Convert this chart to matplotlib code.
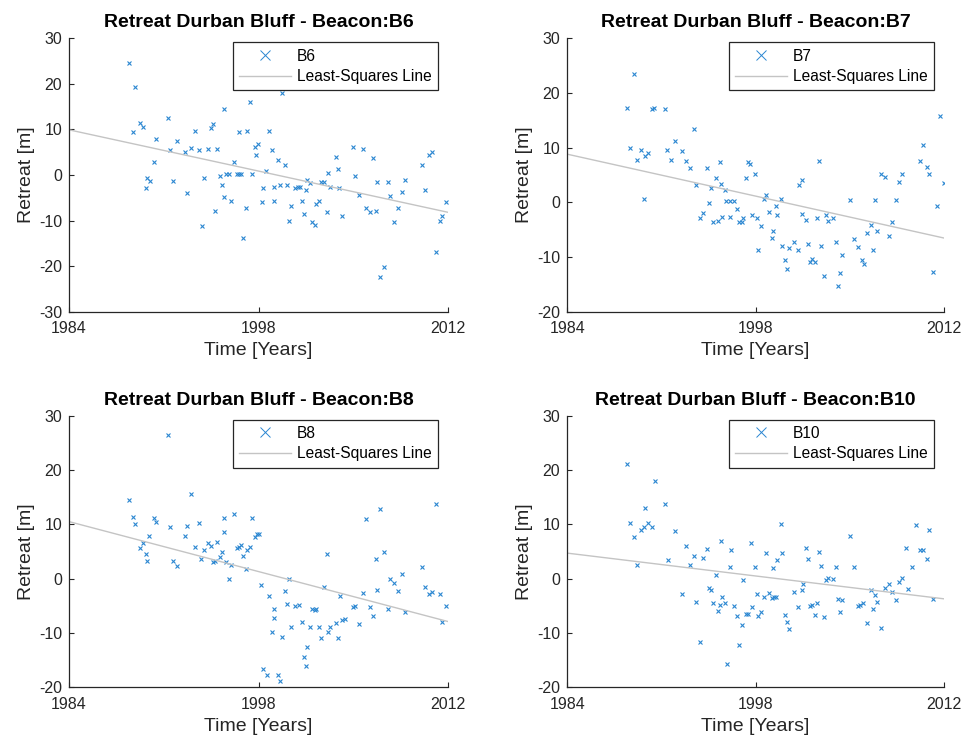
import numpy as np
import matplotlib
matplotlib.use("Agg")
import matplotlib.pyplot as plt
from matplotlib.lines import Line2D

plt.rcParams['font.family'] = ['Liberation Sans', 'DejaVu Sans']
plt.rcParams['axes.unicode_minus'] = False

# survey dates [years] and retreat [m] per beacon
b6_years = [1988.41, 1988.90, 1988.70, 1989.27, 1989.49, 1989.67, 1989.76, 1989.96, 1990.26, 1990.45,
            1991.29, 1991.49, 1991.68, 1991.96, 1992.55, 1992.74, 1993.04, 1993.31, 1993.61, 1993.80,
            1993.98, 1994.27, 1994.47, 1994.67, 1994.76, 1994.94, 1995.13, 1995.33, 1995.43, 1995.43,
            1995.58, 1995.80, 1996.00, 1996.19, 1996.39, 1996.54, 1996.71, 1996.59, 1996.86, 1997.08,
            1997.18, 1997.35, 1997.55, 1997.74, 1997.84, 1997.99,
            1998.24, 1998.33, 1998.58, 1998.80, 1999.00, 1999.17, 1999.17, 1999.47, 1999.57, 1999.76,
            1999.96, 2000.13, 2000.26, 2000.43, 2000.72, 2000.90, 2001.04, 2001.22, 2001.39, 2001.49,
            2001.61, 2001.81, 2001.96, 2002.18, 2002.28, 2002.47, 2002.65, 2002.84, 2003.04, 2003.14,
            2003.31, 2003.70, 2003.90, 2003.98, 2004.20, 2004.96, 2005.16, 2005.45, 2005.72, 2005.92,
            2006.22, 2006.49, 2006.71, 2006.78, 2006.98, 2007.25, 2007.55, 2007.74, 2008.04, 2008.33,
            2008.63, 2008.80, 2010.06, 2010.33, 2010.63, 2010.82, 2011.12, 2011.41, 2011.59, 2011.88]
b6_retreat = [24.5, 19.3, 9.4, 11.4, 10.5, -2.9, -0.6, -1.3, 2.8, 8.0,
              12.5, 5.4, -1.3, 7.4, 5.1, -4.0, 5.9, 9.7, 5.4, -11.2,
              -0.6, 5.7, 10.3, 11.1, -7.8, 5.7, -0.3, -2.3, 14.5, -4.9,
              0.2, 0.2, -5.8, 2.8, 0.2, 0.2, 0.2, 9.4, -13.8, -7.2,
              9.7, 16.0, 0.2, 6.2, 4.3, 6.8,
              -6.0, -2.9, 0.9, 9.7, 5.4, -2.6, -5.8, 3.2, -2.1, 18.0,
              2.2, -2.1, -10.0, -6.9, -2.9, -2.6, -2.6, -5.8, -8.6, -3.2,
              -1.2, -1.8, -10.3, -10.9, -6.3, -5.8, -1.5, -1.5, -8.1, 0.5,
              -2.6, 4.0, 1.4, -2.9, -8.9, 6.2, -0.3, -4.3, 5.7, -7.2,
              -8.1, 3.7, -7.8, -1.5, -22.4, -20.1, -1.5, -4.6, -10.3, -7.2,
              -3.7, -1.2, 2.3, -3.4, 4.3, 5.1, -16.9, -10.0, -8.9, -6.0]

b7_years = [1988.93, 1988.44, 1990.27, 1990.47, 1991.27, 1993.40, 1992.03, 1988.64, 1989.50, 1990.00,
            1989.80, 1989.21, 1991.44, 1992.53, 1991.74, 1992.83, 1993.12, 1994.36, 1995.33, 1995.03,
            1993.60, 1994.66, 1995.43, 1995.73, 1989.70, 1994.56, 1994.07, 1993.89, 1994.86, 1995.23,
            1995.53, 1995.83, 1996.08, 1996.37, 1996.60, 1996.12, 1996.79, 1996.99, 1997.09, 1997.27,
            1997.44, 1997.61, 1997.94, 1997.76, 1998.13, 1998.21,
            1998.43, 1998.63, 1998.81, 1999.03, 1999.20, 1999.30, 1999.50, 1999.60, 1999.87, 1999.97,
            2000.17, 2000.37, 2000.47, 2000.84, 2001.14, 2001.24, 2001.43, 2001.43, 2001.73, 2001.93,
            2002.03, 2002.18, 2002.40, 2002.60, 2002.70, 2002.90, 2003.09, 2003.27, 2003.37, 2003.76,
            2003.96, 2004.16, 2004.26, 2004.46, 2005.03, 2005.33, 2005.60, 2005.90, 2006.09, 2006.29,
            2006.57, 2006.76, 2006.86, 2007.06, 2007.34, 2007.63, 2007.93, 2008.13, 2008.43, 2008.70,
            2008.90, 2010.26, 2010.43, 2010.73, 2010.93, 2011.20, 2011.50, 2011.70, 2012.00]
b7_retreat = [23.4, 17.3, 17.1, 17.3, 17.1, 13.5, 11.2, 10.0, 9.5, 9.0,
              8.5, 7.8, 9.5, 9.3, 7.8, 7.6, 6.2, 6.2, 7.3, 4.5,
              3.2, 2.6, 3.3, 2.3, 0.7, -0.1, -2.0, -2.9, -3.6, -3.4,
              -2.7, 0.2, 0.2, 0.2, -1.2, -2.7, -3.6, -3.6, -2.9, 4.5,
              7.3, 7.1, 5.2, -2.4, -2.9, -8.8,
              -4.3, 0.7, 1.4, -1.7, -6.5, -5.3, -0.7, -2.4, 0.7, -7.9,
              -10.5, -12.2, -8.4, -7.2, -8.7, 3.1, 4.0, -2.2, -3.2, -7.7,
              -11.0, -10.3, -11.0, -2.9, 7.6, -7.9, -13.4, -2.4, -3.4, -2.9,
              -7.2, -15.3, -12.9, -9.6, 0.4, -6.7, -8.2, -10.6, -11.3, -5.6,
              -4.1, -8.8, 0.4, -5.3, 5.2, 4.7, -6.2, -3.6, 0.4, 3.8,
              5.2, 7.6, 10.4, 6.4, 5.2, -12.7, -0.6, 15.7, 3.5]

b8_years = [1991.29, 1988.41, 1993.04, 1988.70, 1988.90, 1990.26, 1990.45, 1991.49, 1992.74, 1993.61,
            1995.43, 1996.19, 1997.55, 1989.94, 1992.55, 1995.43, 1989.47, 1989.27, 1989.67, 1989.76,
            1991.68, 1991.96, 1993.31, 1993.78, 1993.98, 1994.27, 1994.47, 1994.94, 1994.67, 1994.76,
            1995.13, 1995.33, 1995.63, 1996.00, 1995.82, 1996.39, 1996.59, 1996.68, 1996.86, 1997.08,
            1997.18, 1997.35, 1997.74, 1997.87,
            1998.01, 1998.21, 1998.33, 1998.61, 1998.80, 1999.00, 1999.17, 1999.17, 1999.47, 1999.57,
            1999.76, 1999.96, 2000.13, 2000.23, 2000.43, 2000.72, 2001.02, 2001.22, 2001.39, 2001.49,
            2001.59, 2001.78, 2001.98, 2002.18, 2002.28, 2002.47, 2002.65, 2002.84, 2003.04, 2003.14,
            2003.31, 2003.70, 2003.90, 2004.00, 2004.20, 2004.37, 2004.96, 2005.16, 2005.43, 2005.72,
            2005.92, 2006.22, 2006.49, 2006.68, 2006.78, 2006.98, 2007.25, 2007.55, 2007.74, 2008.04,
            2008.33, 2008.63, 2008.80, 2010.06, 2010.33, 2010.63, 2010.82, 2011.12, 2011.41, 2011.59,
            2011.88]
b8_retreat = [26.5, 14.5, 15.6, 11.4, 10.0, 11.2, 10.5, 9.5, 9.7, 10.2,
              11.2, 11.9, 11.2, 7.8, 7.8, 8.6, 6.6, 5.7, 4.5, 3.2,
              3.2, 2.3, 5.9, 3.7, 5.2, 6.6, 6.1, 6.8, 3.0, 3.2,
              4.0, 5.0, 3.0, 2.6, -0.1, 5.7, 5.9, 6.2, 4.2, 1.7,
              5.2, 5.9, 7.6, 8.3,
              8.3, -1.2, -16.7, -17.7, -3.2, -9.8, -5.6, -7.2, -17.8, -18.8,
              -10.8, -2.2, -4.6, -0.1, -8.9, -5.1, -4.8, -7.9, -14.4, -16.0,
              -12.5, -8.9, -5.6, -5.8, -5.6, -8.9, -11.0, -1.5, 4.5, -9.8,
              -8.9, -8.2, -11.0, -3.2, -7.7, -7.5, -5.3, -5.1, -8.4, -2.7,
              10.9, -5.3, -6.8, 3.7, -2.0, 12.8, 5.0, -5.6, -0.1, -0.8,
              -2.2, 0.9, -6.1, 2.1, -1.5, -2.9, -2.4, 13.7, -2.9, -7.9,
              -5.1]

b10_years = [1988.44, 1990.50, 1989.80, 1991.27, 1988.64, 1990.00, 1989.70, 1989.50, 1990.30, 1988.93,
             1992.03, 1989.21, 1991.46, 1992.83, 1993.40, 1993.10, 1994.07, 1994.36, 1995.43, 1996.20,
             1997.64, 1995.03, 1996.10, 1997.94, 1997.07, 1992.53, 1994.56, 1994.66, 1993.60, 1994.86,
             1995.53, 1995.33, 1995.73, 1995.23, 1996.37, 1996.60, 1996.97, 1997.27, 1997.46, 1997.74,
             1998.13, 1998.21, 1993.89, 1996.79, 1995.90,
             1998.43, 1998.63, 1998.81, 1999.00, 1999.20, 1999.30, 1999.40, 1999.50, 1999.60, 1999.87,
             1999.97, 2000.17, 2000.37, 2000.47, 2000.84, 2001.14, 2001.43, 2001.53, 2001.73, 2001.93,
             2002.03, 2002.20, 2002.40, 2002.60, 2002.70, 2002.90, 2003.09, 2003.27, 2003.37, 2003.76,
             2003.96, 2004.16, 2004.26, 2004.46, 2005.03, 2005.33, 2005.60, 2005.80, 2006.00, 2006.29,
             2006.57, 2006.76, 2006.86, 2007.06, 2007.34, 2007.63, 2007.93, 2008.13, 2008.43, 2008.70,
             2008.90, 2009.17, 2009.37, 2009.67, 2009.94, 2010.24, 2010.43, 2010.73, 2010.93, 2011.20]
b10_retreat = [21.2, 17.9, 13.1, 13.8, 10.2, 10.2, 9.5, 9.0, 9.5, 7.6,
               8.8, 2.6, 3.4, 6.0, 4.1, 2.6, 3.8, 5.5, 6.9, 5.2,
               6.5, 0.7, 2.1, 2.1, -0.2, -2.9, -1.7, -2.1, -4.3, -4.5,
               -3.3, -4.8, -4.5, -6.0, -5.0, -6.9, -8.6, -6.5, -6.5, -5.2,
               -2.9, -6.9, -11.7, -12.2, -15.7,
               -6.2, -3.4, 4.8, -2.6, -3.6, 1.9, -3.4, -3.4, 3.4, 10.0,
               4.8, -6.7, -7.9, -9.3, -2.4, -5.2, -2.1, -1.0, 5.7, 3.6,
               -5.0, -4.8, -6.7, -4.5, 5.0, 2.4, -7.1, -0.2, 0.2, 0.0,
               2.1, -3.8, -6.2, -4.0, 7.9, 2.1, -5.0, -4.8, -4.5, -8.1,
               -2.1, -5.5, -3.1, -4.3, -9.1, -1.7, -1.0, -2.4, -4.0, -0.7,
               0.2, 5.7, -1.9, 2.1, 9.8, 5.2, 5.2, 3.6, 9.0, -3.8]

beacons = ['B6', 'B7', 'B8', 'B10']
all_years = [b6_years, b7_years, b8_years, b10_years]
all_retreat = [b6_retreat, b7_retreat, b8_retreat, b10_retreat]
ylims = [(-30, 30), (-20, 30), (-20, 30), (-20, 30)]
xticks = [1984, 1998, 2012]

W, H = 963, 740
# axes boxes in pixels: left, top, right, bottom
boxes = [(69, 38.3, 448, 311.7), (567.3, 38.3, 943.7, 311.7),
         (69, 415.7, 448, 687.3), (567.3, 415.7, 943.7, 687.3)]

DARK = '#262626'
BLUE = '#2a86d1'
GREY = '#c4c4c4'

fig = plt.figure(figsize=(W / 100, H / 100), dpi=100, facecolor='white')

for name, yrs, ret, ylim, box in zip(beacons, all_years, all_retreat, ylims, boxes):
    l, t, r, b = box
    ax = fig.add_axes([l / W, 1 - b / H, (r - l) / W, (b - t) / H])
    yrs = np.array(yrs)
    ret = np.array(ret)

    ax.plot(yrs, ret, 'x', color=BLUE, markersize=3.2, markeredgewidth=0.8)
    # least-squares line
    slope, icpt = np.polyfit(yrs, ret, 1)
    xl = np.array([1984, 2012])
    ax.plot(xl, icpt + slope * xl, '-', color=GREY, linewidth=1.0)

    ax.set_xlim(1984, 2012)
    ax.set_ylim(*ylim)
    ax.set_xticks(xticks)
    ax.set_yticks(np.arange(ylim[0], ylim[1] + 1, 10))

    for s in ['top', 'right']:
        ax.spines[s].set_visible(False)
    for s in ['left', 'bottom']:
        ax.spines[s].set_color(DARK)
        ax.spines[s].set_linewidth(0.9)
    ax.tick_params(direction='in', length=3.5, width=0.8, colors=DARK,
                   labelsize=11.5)
    ax.tick_params(axis='x', pad=7)
    ax.tick_params(axis='y', pad=5)

    ax.set_title('Retreat Durban Bluff - Beacon:' + name, fontsize=14,
                 fontweight='bold', pad=8, color='black')
    ax.set_xlabel('Time [Years]', fontsize=14, color=DARK, labelpad=4)
    ax.set_ylabel('Retreat [m]', fontsize=14, color=DARK, labelpad=3)

    handles = [Line2D([], [], linestyle='none', marker='x', color=BLUE,
                      markersize=6.5, markeredgewidth=0.7),
               Line2D([], [], color=GREY, linewidth=1.0)]
    ax_w = r - l
    ax_h = b - t
    leg = ax.legend(handles, [name, 'Least-Squares Line'], loc='upper right',
                    bbox_to_anchor=(1 - 10 / ax_w, 1 - 4 / ax_h),
                    borderaxespad=0, fontsize=11.2, fancybox=False,
                    edgecolor=DARK, framealpha=1, handlelength=3.3,
                    handletextpad=0.4, labelspacing=0.35, borderpad=0.4)
    leg.get_frame().set_linewidth(0.9)
    for txt in leg.get_texts():
        txt.set_color('black')

fig.savefig('out.png', dpi=100, facecolor='white')
